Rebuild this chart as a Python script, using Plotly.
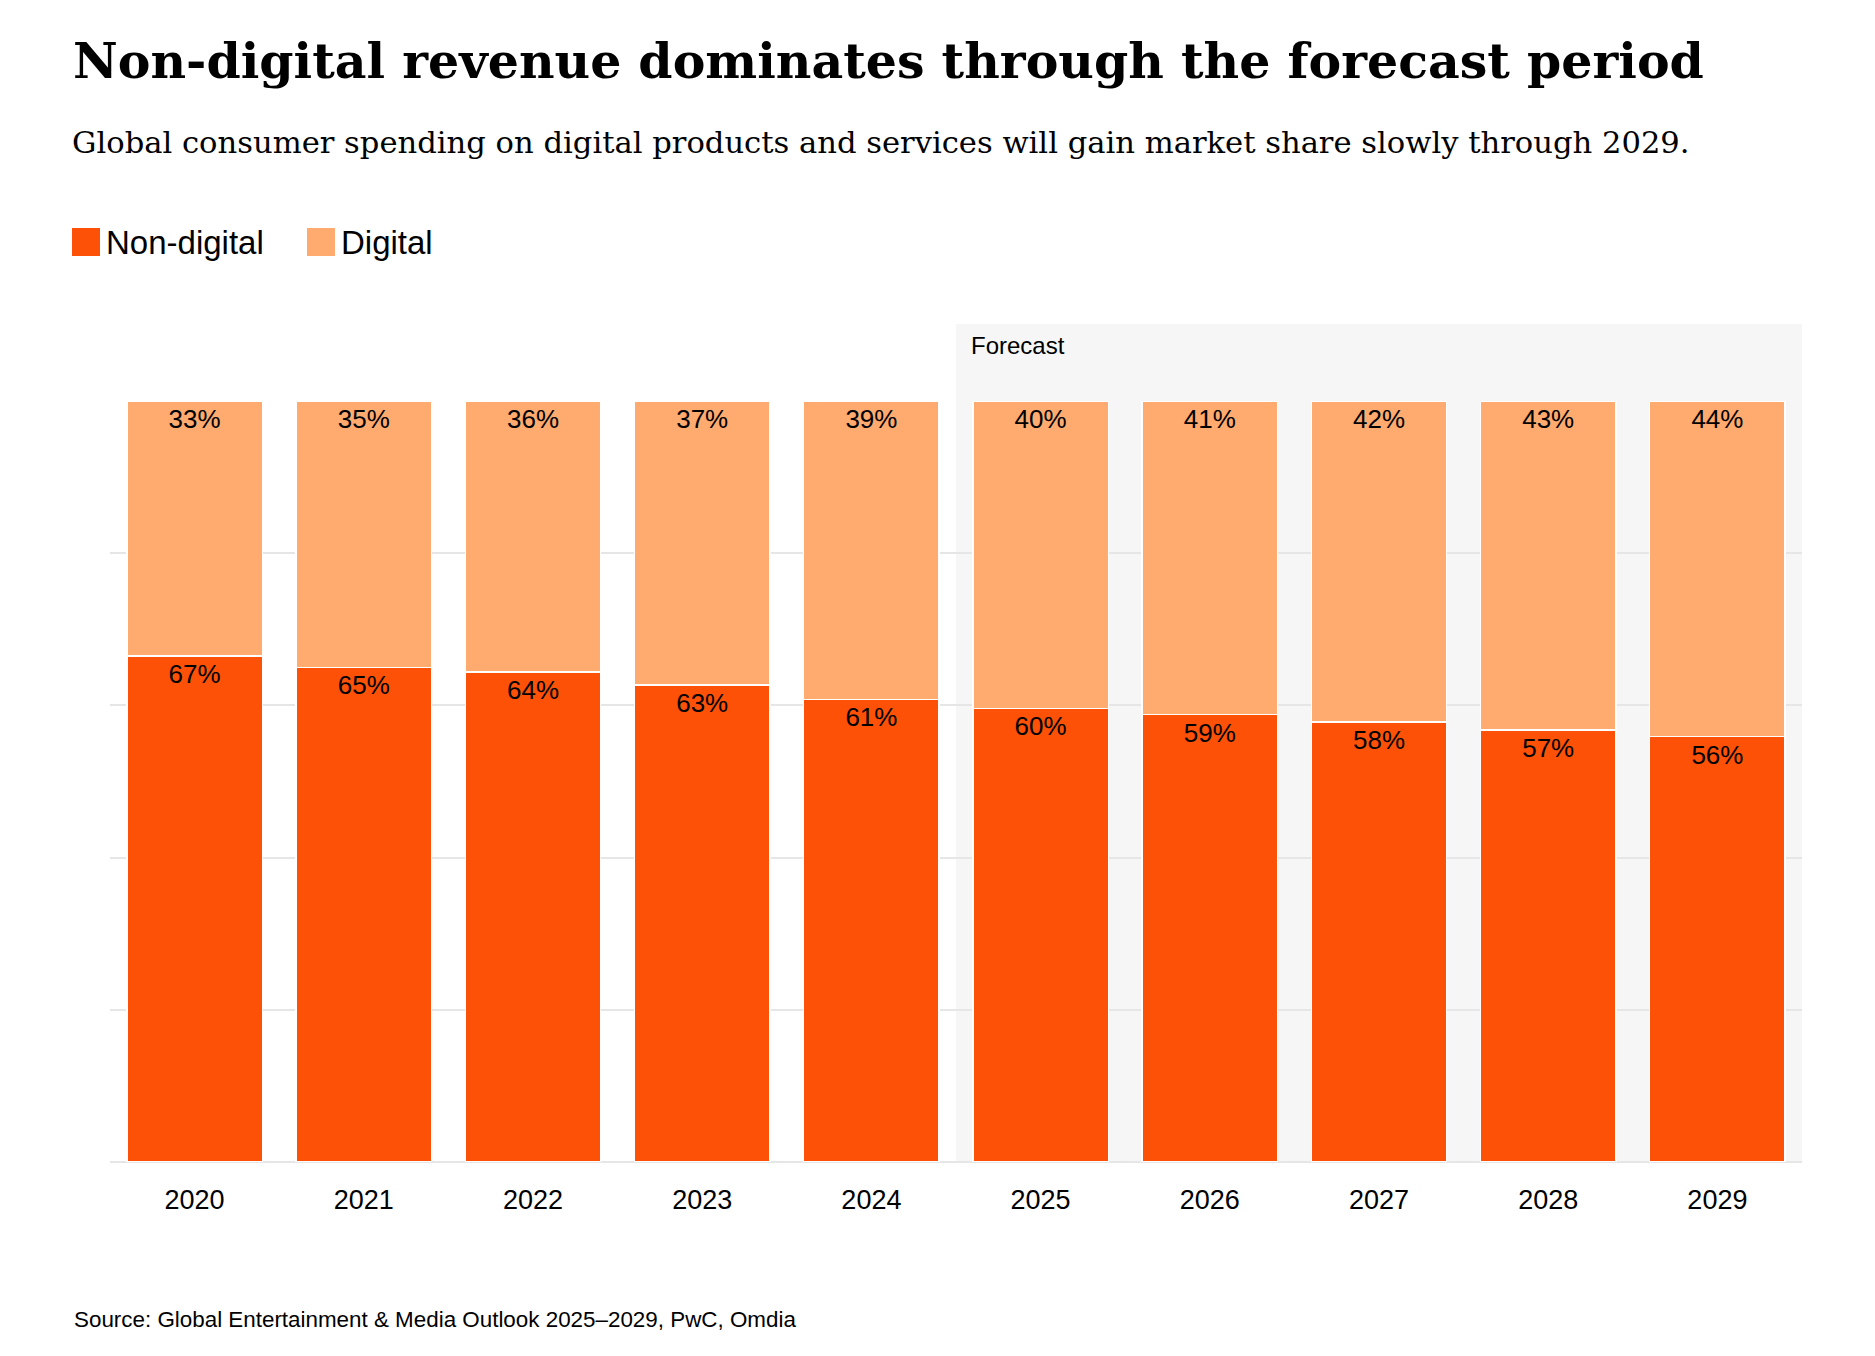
import plotly.graph_objects as go

# data (shares in %)
years = ["2020", "2021", "2022", "2023", "2024", "2025", "2026", "2027", "2028", "2029"]
non_digital = [66.5, 65.0, 64.4, 62.7, 60.8, 59.6, 58.8, 57.8, 56.8, 55.9]
digital = [33.5, 35.0, 35.6, 37.3, 39.2, 40.4, 41.2, 42.2, 43.2, 44.1]
non_digital_labels = ["67%", "65%", "64%", "63%", "61%", "60%", "59%", "58%", "57%", "56%"]
digital_labels = ["33%", "35%", "36%", "37%", "39%", "40%", "41%", "42%", "43%", "44%"]
forecast_years = ["2025", "2029"]

ORANGE = "#FD5108"
LIGHT = "#FFAA6F"
GRID = "#E6E6E6"
SANS = "Liberation Sans, Arial, sans-serif"
SERIF = "DejaVu Serif, Georgia, serif"

# the page puts the figure 8px in from the window corner
OFF = 8
W, H = 1875 - 2 * OFF, 1356 - 2 * OFF
L, R, T, B = 110, 1802, 401, 1162  # plot area, window pixels


def px(x):
    return (x - L) / (R - L)


def py(y):
    return (B - y) / (B - T)


fig = go.Figure()
fig.add_trace(go.Bar(
    x=years, y=non_digital, name="Non-digital",
    marker=dict(color=ORANGE, line=dict(color="white", width=1.5)),
    text=non_digital_labels, textposition="inside", insidetextanchor="end",
    textangle=0, textfont=dict(family=SANS, size=26, color="black"),
    hoverinfo="x+y",
))
fig.add_trace(go.Bar(
    x=years, y=digital, name="Digital",
    marker=dict(color=LIGHT, line=dict(color="white", width=1.5)),
    text=digital_labels, textposition="inside", insidetextanchor="end",
    textangle=0, textfont=dict(family=SANS, size=26, color="black"),
    hoverinfo="x+y",
))

i0 = years.index(forecast_years[0])
i1 = years.index(forecast_years[1])
shapes = [
    dict(type="rect", xref="x", yref="paper", x0=i0 - 0.5, x1=i1 + 0.5,
         y0=0, y1=py(324), fillcolor="#F6F6F6", line=dict(width=0), layer="below"),
    # legend swatches
    dict(type="rect", xref="paper", yref="paper", x0=px(72), x1=px(100),
         y0=py(256), y1=py(228), fillcolor=ORANGE, line=dict(width=0)),
    dict(type="rect", xref="paper", yref="paper", x0=px(307), x1=px(335),
         y0=py(256), y1=py(228), fillcolor=LIGHT, line=dict(width=0)),
]

annotations = [
    dict(text="<b>Non-digital revenue dominates through the forecast period</b>",
         x=px(71), y=py(61), font=dict(family=SERIF, size=49, color="#000")),
    dict(text="Global consumer spending on digital products and services will gain market share slowly through 2029.",
         x=px(70), y=py(142), font=dict(family=SERIF, size=30.6, color="#000")),
    dict(text="Non-digital", x=px(104), y=py(242), font=dict(family=SANS, size=33, color="#000")),
    dict(text="Digital", x=px(339), y=py(242), font=dict(family=SANS, size=33, color="#000")),
    dict(text="Forecast", x=px(969), y=py(345), font=dict(family=SANS, size=24, color="#000")),
    dict(text="Source: Global Entertainment &amp; Media Outlook 2025–2029, PwC, Omdia",
         x=px(72), y=py(1319), font=dict(family=SANS, size=22.4, color="#000")),
]
for a in annotations:
    a.update(xref="paper", yref="paper", xanchor="left", yanchor="middle", showarrow=False)

fig.update_layout(
    width=W, height=H,
    margin=dict(l=L - OFF, r=OFF + W - R, t=T - OFF, b=OFF + H - B, pad=0),
    barmode="stack", bargap=0.2,
    plot_bgcolor="rgba(0,0,0,0)", paper_bgcolor="white",
    showlegend=False,
    shapes=shapes, annotations=annotations,
    font=dict(family=SANS, color="#000"),
)
fig.update_xaxes(
    tickfont=dict(family=SANS, size=27, color="#000"),
    ticks="outside", ticklen=14, tickcolor="rgba(0,0,0,0)",
    showgrid=False, showline=False, fixedrange=True,
)
fig.update_yaxes(
    range=[0, 100], dtick=20, showticklabels=False,
    showgrid=True, gridcolor=GRID, gridwidth=2,
    zeroline=True, zerolinecolor=GRID, zerolinewidth=2,
    showline=False, fixedrange=True,
)

fig.write_html("out.html")
